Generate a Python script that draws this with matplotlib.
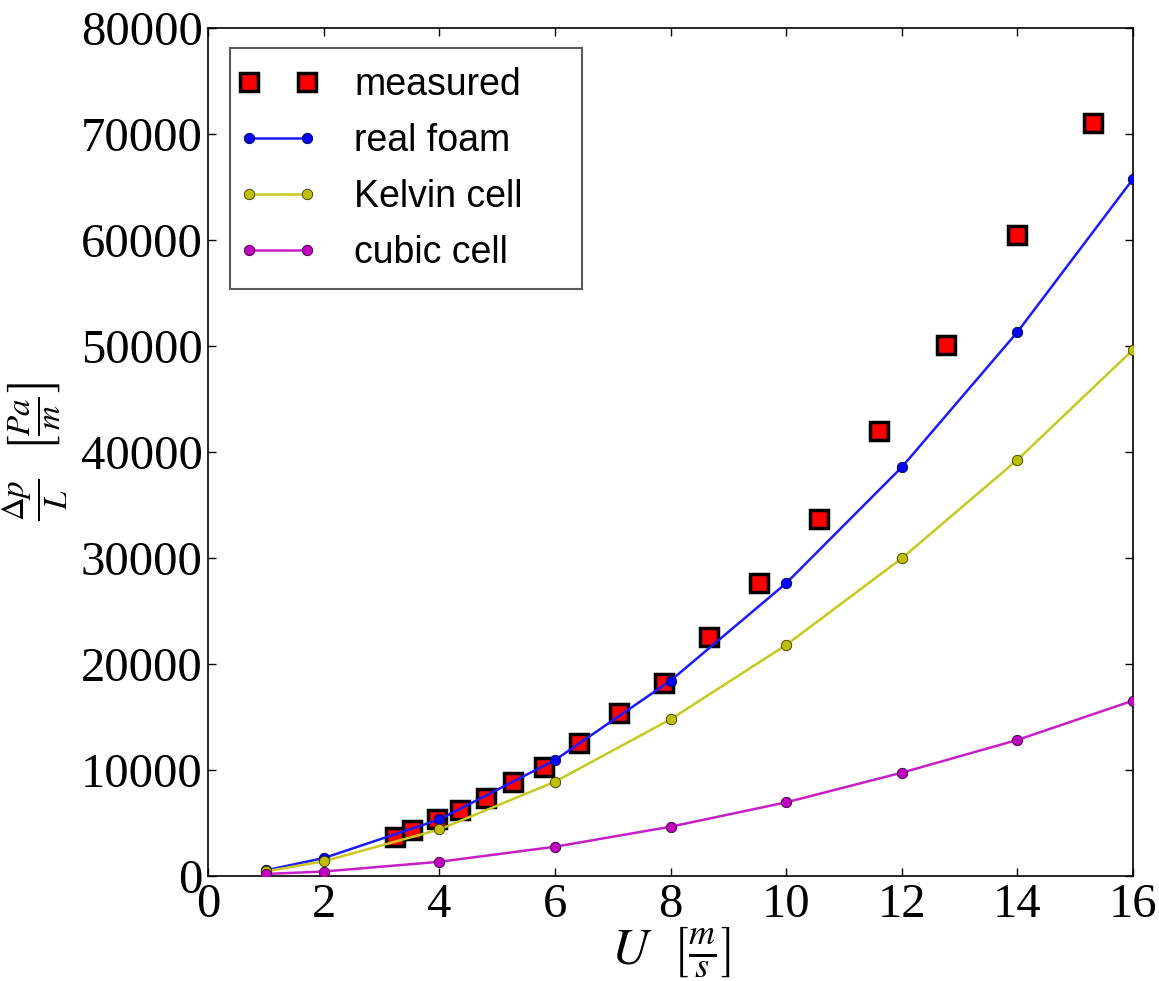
import matplotlib
matplotlib.use("Agg")
import matplotlib.pyplot as plt
from matplotlib.legend_handler import HandlerLine2D

# measured data
u_meas = [3.23, 3.52, 3.96, 4.36, 4.81, 5.27, 5.80, 6.42, 7.11, 7.88, 8.66,
          9.53, 10.56, 11.61, 12.76, 13.99, 15.30]
dp_meas = [3660, 4300, 5330, 6190, 7350, 8860, 10270, 12480, 15320, 18200,
           22550, 27650, 33660, 41970, 50090, 60480, 71030]

# simulations
u_sim = [1, 2, 4, 6, 8, 10, 12, 14, 16]
dp_real = [500, 1650, 5300, 10900, 18400, 27600, 38550, 51300, 65750]
dp_kelvin = [400, 1350, 4350, 8860, 14750, 21770, 29950, 39240, 49630]
dp_cubic = [150, 380, 1300, 2720, 4610, 6910, 9710, 12800, 16510]

x_ticks = [0, 2, 4, 6, 8, 10, 12, 14, 16]
y_ticks = [0, 10000, 20000, 30000, 40000, 50000, 60000, 70000, 80000]

plt.rcParams['mathtext.fontset'] = 'stix'

fig = plt.figure(figsize=(11.59, 9.81), dpi=100)
ax = fig.add_axes([0.1797, 0.1075, 0.7979, 0.864])

l_real, = ax.plot(u_sim, dp_real, '-o', color='#1a1aff', lw=1.8, ms=7.5,
                  mfc='#0000ff', mec='#000033', mew=0.6, label='real foam',
                  zorder=3)
l_kel, = ax.plot(u_sim, dp_kelvin, '-o', color='#c8c81e', lw=1.8, ms=7.5,
                 mfc='#bfbf00', mec='#333300', mew=0.6, label='Kelvin cell',
                 zorder=3)
l_cub, = ax.plot(u_sim, dp_cubic, '-o', color='#c81ec8', lw=1.8, ms=7.5,
                 mfc='#bf00bf', mec='#330033', mew=0.6, label='cubic cell',
                 zorder=3)
l_meas, = ax.plot(u_meas, dp_meas, 's', color='#ff0000', ms=13, mec='black',
                  mew=2.5, label='measured', zorder=2)

ax.set_xlim(0, 16)
ax.set_ylim(0, 80000)
ax.set_xticks(x_ticks)
ax.set_yticks(y_ticks)
ax.set_xticklabels([str(v) for v in x_ticks])
ax.set_yticklabels([str(v) for v in y_ticks])
ax.tick_params(direction='in', length=6, width=1, top=True, right=True)
ax.tick_params(axis='x', pad=5.5)
ax.tick_params(axis='y', pad=4.0)
for lab in ax.get_xticklabels() + ax.get_yticklabels():
    lab.set_fontfamily('Liberation Serif')
    lab.set_fontsize(35)
for s in ax.spines.values():
    s.set_linewidth(1.2)

ax.set_xlabel(r'$U\ \ \left[\frac{m}{s}\right]$', fontsize=37, labelpad=-2)
ax.set_ylabel(r'$\frac{\Delta p}{L}\ \ \left[\frac{Pa}{m}\right]$', fontsize=34,
              labelpad=8)

hmap = {h: HandlerLine2D(numpoints=2, marker_pad=0.0)
        for h in (l_meas, l_real, l_kel, l_cub)}
leg = ax.legend([l_meas, l_real, l_kel, l_cub],
                ['measured', 'real foam', 'Kelvin cell', 'cubic cell'],
                handler_map=hmap,
                loc='upper left', bbox_to_anchor=(0.0238, 0.976, 0.380, 0.0),
                mode='expand', borderaxespad=0.0,
                numpoints=2, handlelength=1.55,
                handletextpad=1.25, borderpad=0.5, labelspacing=0.53,
                fancybox=False,
                prop={'family': 'Liberation Sans', 'size': 27})
leg.get_frame().set_edgecolor('#333333')
leg.get_frame().set_linewidth(1.5)

fig.savefig('out.png', dpi=100)
